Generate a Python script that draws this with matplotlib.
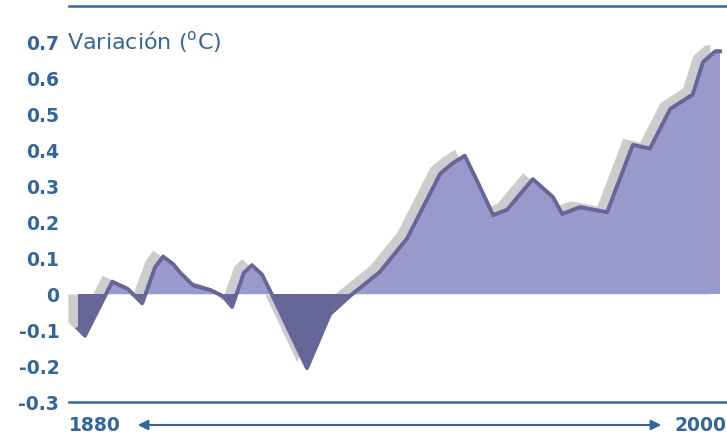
import matplotlib
matplotlib.use("Agg")
import matplotlib.pyplot as plt
import numpy as np

# Data
years = [1880, 1881.3, 1886.4, 1889.3, 1892, 1894.4, 1895.9, 1897.8, 1899,
         1901.5, 1904.7, 1907.1, 1908.8, 1911.0, 1912.5, 1914.4, 1916.4,
         1919.6, 1922.8, 1927.1, 1930.8, 1936.4, 1941.5, 1947.7, 1950.1,
         1952.3, 1954.6, 1957.6, 1960.2, 1965.0, 1968.8, 1970.5, 1973.8,
         1978.9, 1983.7, 1986.9, 1990.7, 1994.9, 1996.8, 1999.1, 2000]
anomaly = [-0.09, -0.11, 0.04, 0.02, -0.02, 0.08, 0.11, 0.089, 0.067,
           0.03, 0.017, 0.0, -0.03, 0.065, 0.086, 0.06, 0.0,
           -0.10, -0.20, -0.05, 0.0, 0.067, 0.16, 0.34, 0.37,
           0.39, 0.32, 0.225, 0.24, 0.325, 0.275, 0.228, 0.247,
           0.233, 0.42, 0.41, 0.52, 0.56, 0.65, 0.68, 0.68]
ytick_vals = [-0.3, -0.2, -0.1, 0, 0.1, 0.2, 0.3, 0.4, 0.5, 0.6, 0.7]
ytick_labels = ['-0.3', '-0.2', '-0.1', '0', '0.1', '0.2', '0.3', '0.4', '0.5', '0.6', '0.7']
start_label, end_label = '1880', '2000'
title = r'Variación ($^{\mathrm{o}}$C)'

BLUE = '#336699'
LIGHT = '#9999CC'
DARK = '#666699'
GRAY = '#CCCCCC'

x = np.array(years)
y = np.array(anomaly)

W, H = 727, 436
fig = plt.figure(figsize=(W / 100, H / 100), dpi=100)
ax = fig.add_axes([69 / W, (H - 402) / H, 1 - 69 / W, (402 - 6) / H])

# shadow
ax.fill_between(x - 1.9, y + 0.012, 0, color=GRAY, lw=0, clip_on=False)
# main fills
ax.fill_between(x, y, 0, where=y >= 0, interpolate=True, color=LIGHT, lw=0)
ax.fill_between(x, y, 0, where=y <= 0, interpolate=True, color=DARK, lw=0)
ax.plot(x, y - 0.006, color=DARK, lw=2.8, solid_joinstyle='round')

ax.set_xlim(1880 - 9 / 5.35, 2000 + 7 / 5.35)
ax.set_ylim(-0.3, 0.8)
ax.set_xticks([])
ax.set_yticks(ytick_vals)
ax.set_yticklabels(ytick_labels, fontsize=13.5, fontweight='bold', color=BLUE)
ax.tick_params(axis='y', length=0, pad=7)
for s in ['left', 'right']:
    ax.spines[s].set_visible(False)
for s in ['top', 'bottom']:
    ax.spines[s].set_color(BLUE)
    ax.spines[s].set_linewidth(1.8)

fig.text(67 / W, (H - 42) / H, title, fontsize=16, color=BLUE,
         ha='left', va='center')

yb = (H - 425) / H
fig.text(69 / W, yb, start_label, fontsize=13.5, fontweight='bold', color=BLUE,
         ha='left', va='center')
fig.text(727 / W, yb, end_label, fontsize=13.5, fontweight='bold', color=BLUE,
         ha='right', va='center')
fig.add_artist(matplotlib.patches.FancyArrowPatch(
    (135 / W, yb), (664 / W, yb), transform=fig.transFigure,
    arrowstyle='<|-|>', mutation_scale=15, color=BLUE, lw=1.5))

fig.savefig('out.png', dpi=100)
